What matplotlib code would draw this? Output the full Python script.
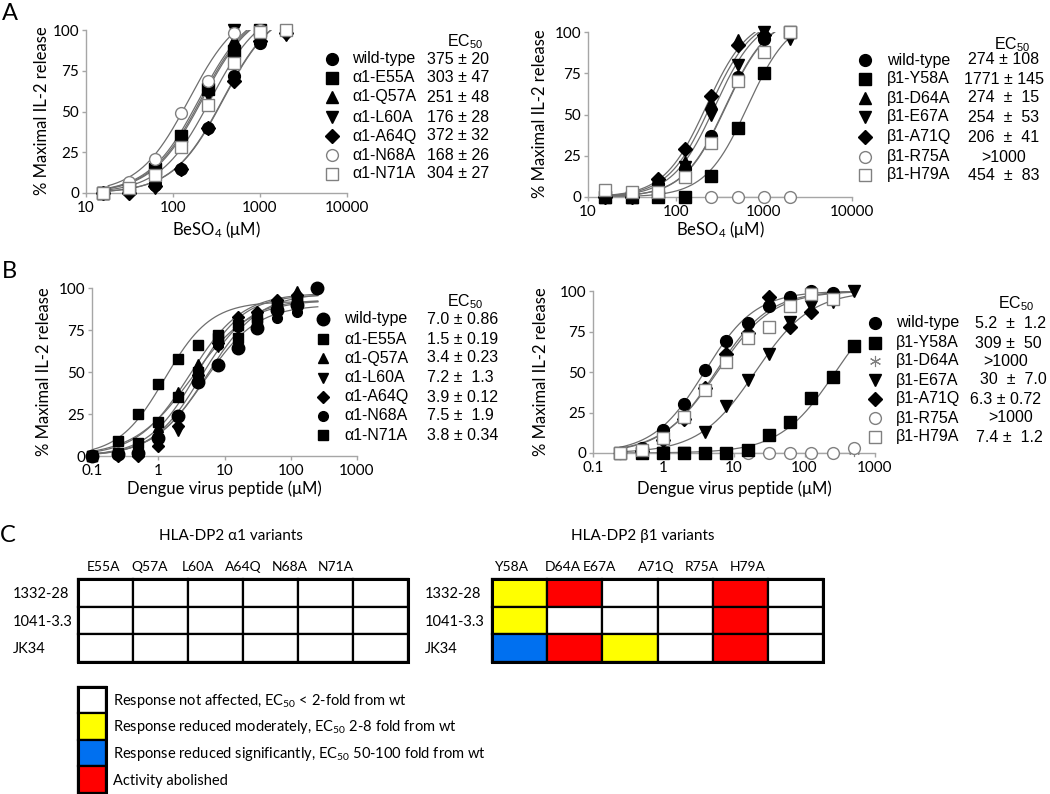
import numpy as np
import matplotlib
matplotlib.use('Agg')
import matplotlib.pyplot as plt
from matplotlib.patches import Rectangle
from matplotlib.ticker import FixedLocator, FixedFormatter, NullLocator

plt.rcParams['font.family'] = ['Lato', 'DejaVu Sans']
plt.rcParams['mathtext.default'] = 'regular'
LEG_FONT = ['Liberation Sans', 'DejaVu Sans']

nan = np.nan

# ---------------- data ----------------
be_conc = [15.6, 31.25, 62.5, 125, 250, 500, 1000, 2000]
pep_conc_a = [0.1, 0.25, 0.5, 1, 2, 4, 8, 16, 31.25, 62.5, 125, 250]
pep_conc_b = [0.24, 0.49, 0.98, 1.95, 3.9, 7.8, 15.6, 31.25, 62.5, 125, 250, 500]

a1_labels = ['wild-type', 'α1-E55A', 'α1-Q57A', 'α1-L60A', 'α1-A64Q', 'α1-N68A', 'α1-N71A']
b1_labels = ['wild-type', 'β1-Y58A', 'β1-D64A', 'β1-E67A', 'β1-A71Q', 'β1-R75A', 'β1-H79A']

# Panel A, alpha1 variants, BeSO4
a1_be_wt   = [0, 2, 5, 15, 40, 72, 92, nan]
a1_be_e55a = [0, 3, 15, 35, 64, 87, 100, nan]
a1_be_q57a = [0, 4, 13, 33, 67, 94, 100, nan]
a1_be_l60a = [0, 0, 3, 28, 60, 100, 96, 97]
a1_be_a64q = [0, 0, 4, 15, 40, 69, 93, 98]
a1_be_n68a = [0, 7, 21, 49, 69, 98, 100, nan]
a1_be_n71a = [0, 3, 11, 28, 54, 80, 99, 100]
a1_be_ec50_text = ['375 ± 20', '303 ± 47', '251 ± 48', '176 ± 28', '372 ± 32', '168 ± 26', '304 ± 27']
# fitted curve parameters (midpoint, Hill slope, top)
a1_be_fit_mid = [380, 218, 210, 200, 375, 153, 271]
a1_be_fit_slope = [1.5, 1.5, 1.5, 1.5, 1.5, 1.5, 1.5]
a1_be_fit_top = [115, 115, 115, 115, 115, 115, 115]

# Panel A, beta1 variants, BeSO4
b1_be_wt   = [0, 0, 8, 17, 37, 73, 96, nan]
b1_be_y58a = [0, 0, 0, 0, 13, 42, 75, 100]
b1_be_d64a = [0, 0, 8, 21, 57, 95, 100, nan]
b1_be_e67a = [0, 0, 7, 18, 50, 80, 100, 96]
b1_be_a71q = [0, 0, 11, 29, 61, 92, 98, nan]
b1_be_r75a = [nan, nan, nan, nan, 0, 0, 0, 0]
b1_be_h79a = [4, 3, 3, 12, 33, 70, 88, 100]
b1_be_ec50_text = ['274 ± 108', '1771 ± 145', '274  ±  15', '254  ±  53', '206  ±  41', '>1000', '454  ±  83']
b1_be_fit_mid = [365, 653, 245, 277, 221, nan, 370]
b1_be_fit_slope = [1.8, 1.8, 1.8, 1.8, 1.8, nan, 1.8]
b1_be_fit_top = [110, 110, 110, 110, 110, nan, 110]

# Panel B, alpha1 variants, peptide
a1_pep_wt   = [0, 1, 2, 11, 24, 44, 54, 64, 76, 87, 90, 100]
a1_pep_e55a = [0, 9, 25, 43, 58, 66, 72, 78, 83, 90, 93, nan]
a1_pep_q57a = [0, 2, 4, 17, 38, 55, 68, 80, 85, 92, 98, nan]
a1_pep_l60a = [0, 1, 2, 8, 15, 45, 65, 77, 82, 88, 90, nan]
a1_pep_a64q = [0, 0, 0, 6, 18, 48, 67, 83, 86, 93, 96, nan]
a1_pep_n68a = [0, 1, 3, 11, 24, 45, 66, 77, 80, 82, 86, nan]
a1_pep_n71a = [0, 2, 8, 20, 35, 50, 70, 70, 80, 90, 93, nan]
a1_pep_ec50_text = ['7.0 ± 0.86', '1.5 ± 0.19', '3.4 ± 0.23', '7.2 ±  1.3', '3.9 ± 0.12', '7.5 ±  1.9', '3.8 ± 0.34']
a1_pep_fit_mid = [5.5, 1.25, 3.0, 4.3, 3.7, 5.0, 3.2]
a1_pep_fit_slope = [1.1, 1.25, 1.1, 1.2, 1.2, 1.1, 1.0]
a1_pep_fit_top = [97, 92, 97, 93, 96, 90, 93]

# Panel B, beta1 variants, peptide
b1_pep_wt   = [0, 3, 14, 30, 51, 69, 80, 91, 96, 100, 99, nan]
b1_pep_y58a = [0, 0, 0, 0, 0, 0, 2, 11, 19, 34, 47, 66]
b1_pep_d64a = [0, 0, 0, 0, 0, 0, 0, 0, 0, 0, 0, 1]
b1_pep_e67a = [nan, 0, 0, 0, 13, 29, 45, 61, 81, 91, 93, 100]
b1_pep_a71q = [nan, 1, 8, 21, 40, 61, 74, 96, 78, 87, nan, nan]
b1_pep_r75a = [nan, nan, nan, nan, nan, nan, 0, 0, 0, 0, 0, 3]
b1_pep_h79a = [0, 2, 9, 22, 39, 56, 71, 78, 91, 98, 95, nan]
b1_pep_ec50_text = ['5.2  ±  1.2', '309 ±  50', '>1000', '30  ±  7.0', '6.3 ± 0.72', '>1000', '7.4 ±  1.2']
b1_pep_fit_mid = [3.8, 275, nan, 20, 5.5, nan, 5.8]
b1_pep_fit_slope = [1.2, 1.1, nan, 1.1, 1.15, nan, 1.1]
b1_pep_fit_top = [100, 100, nan, 100, 100, nan, 100]

# Panel C
clones = ['1332-28', '1041-3.3', 'JK34']
a1_variants = ['E55A', 'Q57A', 'L60A', 'A64Q', 'N68A', 'N71A']
b1_variants = ['Y58A', 'D64A', 'E67A', 'A71Q', 'R75A', 'H79A']
# 0 = not affected, 1 = moderate, 2 = significant, 3 = abolished
a1_effect = [[0, 0, 0, 0, 0, 0],
             [0, 0, 0, 0, 0, 0],
             [0, 0, 0, 0, 0, 0]]
b1_effect = [[1, 3, 0, 0, 3, 0],
             [1, 0, 0, 0, 3, 0],
             [2, 3, 1, 0, 3, 0]]
effect_labels = ['Response not affected, EC$_{50}$ < 2-fold from wt',
                 'Response reduced moderately, EC$_{50}$ 2-8 fold from wt',
                 'Response reduced significantly, EC$_{50}$ 50-100 fold from wt',
                 'Activity abolished']
effect_colors = ['#FFFFFF', '#FFFF00', '#0070F0', '#FF0000']

# ---------------- styles ----------------
BLACK = 'black'
GRAY = '#808080'
style_a = [dict(marker='o', ms=8.5, mfc=BLACK, mec=BLACK, zorder=5),
           dict(marker='s', ms=8, mfc=BLACK, mec=BLACK, zorder=6),
           dict(marker='^', ms=8, mfc=BLACK, mec=BLACK, zorder=7),
           dict(marker='v', ms=8, mfc=BLACK, mec=BLACK, zorder=8),
           dict(marker='D', ms=7, mfc=BLACK, mec=BLACK, zorder=9),
           dict(marker='o', ms=8.5, mfc='white', mec=GRAY, zorder=10),
           dict(marker='s', ms=8, mfc='white', mec=GRAY, zorder=11)]
style_bl = [dict(marker='o', ms=9, mfc=BLACK, mec=BLACK, zorder=5),
            dict(marker='s', ms=6.5, mfc=BLACK, mec=BLACK, zorder=6),
            dict(marker='^', ms=6.5, mfc=BLACK, mec=BLACK, zorder=7),
            dict(marker='v', ms=6.5, mfc=BLACK, mec=BLACK, zorder=8),
            dict(marker='D', ms=6, mfc=BLACK, mec=BLACK, zorder=9),
            dict(marker='o', ms=7, mfc=BLACK, mec=BLACK, zorder=10),
            dict(marker='s', ms=7.5, mfc=BLACK, mec=BLACK, zorder=11)]
style_br = [dict(marker='o', ms=8.5, mfc=BLACK, mec=BLACK, zorder=6),
            dict(marker='s', ms=8, mfc=BLACK, mec=BLACK, zorder=7),
            dict(marker=(6, 2, 0), ms=8, mfc=GRAY, mec=GRAY, mew=0.8, zorder=3),
            dict(marker='v', ms=8, mfc=BLACK, mec=BLACK, zorder=8),
            dict(marker='D', ms=7, mfc=BLACK, mec=BLACK, zorder=9),
            dict(marker='o', ms=8.5, mfc='white', mec=GRAY, zorder=5),
            dict(marker='s', ms=8, mfc='white', mec=GRAY, zorder=10)]

W, H = 1050, 794
fig = plt.figure(figsize=(W / 100, H / 100), dpi=100)


def px_axes(x0, x1, ytop, ybot):
    return fig.add_axes([x0 / W, 1 - ybot / H, (x1 - x0) / W, (ybot - ytop) / H])


def hill(x, mid, slope, top):
    return top / (1.0 + (mid / x) ** slope)


def setup(ax, xlim, xticks, xticklabels):
    ax.set_xscale('log')
    ax.set_xlim(*xlim)
    ax.set_ylim(0, 100)
    ax.patch.set_alpha(0)
    for s in ['top', 'right']:
        ax.spines[s].set_visible(False)
    for s in ['left', 'bottom']:
        ax.spines[s].set_color('#a6a6a6')
        ax.spines[s].set_linewidth(1.0)
    ax.xaxis.set_major_locator(FixedLocator(xticks))
    ax.xaxis.set_major_formatter(FixedFormatter(xticklabels))
    ax.xaxis.set_minor_locator(NullLocator())
    ax.set_yticks([0, 25, 50, 75, 100])
    ax.set_yticklabels(['0', '25', '50', '75', '100'])
    ax.tick_params(axis='both', colors='#a6a6a6', labelcolor='black',
                   labelsize=11, length=3, width=1.0)
    ax.tick_params(axis='x', pad=3)
    ax.tick_params(axis='y', pad=2)


def draw_panel(ax, conc, series, styles, mids, slopes, tops, crange, flat_range=None):
    xs = np.logspace(np.log10(crange[0]), np.log10(crange[1]), 400)
    for i in range(len(series)):
        if not np.isnan(mids[i]):
            ys = hill(xs, mids[i], slopes[i], tops[i])
            keep = ys <= 100.0
            ax.plot(xs[keep], ys[keep], color='#6e6e6e', lw=0.9, zorder=2)
    if flat_range is not None:
        ax.plot(flat_range, [0, 0], color='#8c8c8c', lw=0.9, zorder=2)
    for i, vals in enumerate(series):
        ax.plot(conc, vals, ls='none', clip_on=False, **styles[i])


# ---------- Panel A left ----------
axA1 = px_axes(86, 347, 30, 193)
setup(axA1, (10, 10000), [10, 100, 1000, 10000], ['10', '100', '1000', '10000'])
draw_panel(axA1, be_conc,
           [a1_be_wt, a1_be_e55a, a1_be_q57a, a1_be_l60a, a1_be_a64q, a1_be_n68a, a1_be_n71a],
           style_a, a1_be_fit_mid, a1_be_fit_slope, a1_be_fit_top, (18, 2000))

# ---------- Panel A right ----------
axA2 = px_axes(588, 852, 32, 197)
setup(axA2, (10, 10000), [10, 100, 1000, 10000], ['10', '100', '1000', '10000'])
draw_panel(axA2, be_conc,
           [b1_be_wt, b1_be_y58a, b1_be_d64a, b1_be_e67a, b1_be_a71q, b1_be_r75a, b1_be_h79a],
           style_a, b1_be_fit_mid, b1_be_fit_slope, b1_be_fit_top, (18, 2200),
           flat_range=[250, 2000])

# ---------- Panel B left ----------
axB1 = px_axes(92, 357, 288, 456)
setup(axB1, (0.1, 1000), [0.1, 1, 10, 100, 1000], ['0.1', '1', '10', '100', '1000'])
draw_panel(axB1, pep_conc_a,
           [a1_pep_wt, a1_pep_e55a, a1_pep_q57a, a1_pep_l60a, a1_pep_a64q, a1_pep_n68a, a1_pep_n71a],
           style_bl, a1_pep_fit_mid, a1_pep_fit_slope, a1_pep_fit_top, (0.1, 256))

# ---------- Panel B right ----------
axB2 = px_axes(593, 875, 291, 453)
setup(axB2, (0.1, 1000), [0.1, 1, 10, 100, 1000], ['0.1', '1', '10', '100', '1000'])
draw_panel(axB2, pep_conc_b,
           [b1_pep_wt, b1_pep_y58a, b1_pep_d64a, b1_pep_e67a, b1_pep_a71q, b1_pep_r75a, b1_pep_h79a],
           style_br, b1_pep_fit_mid, b1_pep_fit_slope, b1_pep_fit_top, (0.24, 512),
           flat_range=[0.24, 500])

# ---------- overlay in pixel coordinates ----------
ov = fig.add_axes([0, 0, 1, 1])
ov.set_xlim(0, W)
ov.set_ylim(H, 0)
ov.axis('off')
ov.patch.set_alpha(0)

# axis titles
ylab = '% Maximal IL-2 release'
for xc, yc in [(42, 111), (540, 114), (44, 372), (541, 372)]:
    ov.text(xc, yc, ylab, rotation=90, ha='center', va='center', fontsize=12)
ov.text(216, 229, 'BeSO$_4$ (μM)', ha='center', va='center', fontsize=12)
ov.text(720, 229, 'BeSO$_4$ (μM)', ha='center', va='center', fontsize=12)
ov.text(224, 489, 'Dengue virus peptide (μM)', ha='center', va='center', fontsize=12)
ov.text(734, 489, 'Dengue virus peptide (μM)', ha='center', va='center', fontsize=12)

# panel letters
ov.text(2, 13, 'A', ha='left', va='center', fontsize=17)
ov.text(2, 272, 'B', ha='left', va='center', fontsize=17)
ov.text(0, 536, 'C', ha='left', va='center', fontsize=17)


def legend(mx, lx, vx, vha, hx, hy, rows, labels, values, styles, value_x_list=None):
    ov.text(hx, hy, 'EC$_{50}$', ha='left', va='center', fontsize=11.5, family=LEG_FONT)
    for i, y in enumerate(rows):
        st = dict(styles[i])
        st.pop('zorder', None)
        ov.plot([mx], [y], ls='none', **st)
        ov.text(lx, y, labels[i], ha='left', va='center', fontsize=11.5, family=LEG_FONT)
        x = vx if value_x_list is None else value_x_list[i]
        ov.text(x, y, values[i], ha=vha, va='center', fontsize=11.5, family=LEG_FONT)


legend(332, 352, 427, 'left', 447, 42, [59, 78, 97, 117, 136, 155, 174],
       a1_labels, a1_be_ec50_text, style_a)
legend(865, 887, 1004, 'center', 994, 45, [60, 79, 98, 117, 137, 157, 175],
       b1_labels, b1_be_ec50_text, style_a)
legend(323, 344, 427, 'left', 447, 302, [319, 339, 358, 378, 397, 416, 435],
       a1_labels, a1_pep_ec50_text, style_bl)
legend(875, 896, 975, 'left', 998, 304, [323, 343, 361, 380, 399, 418, 437],
       b1_labels, b1_pep_ec50_text, style_br,
       value_x_list=[975, 975, 983, 980, 970, 988, 976])

# ---------- Panel C ----------
def grid(x0, x1, y0, y1, effects, col_labels, col_x, row_x):
    ncol = len(effects[0])
    nrow = len(effects)
    cw = (x1 - x0) / ncol
    rh = (y1 - y0) / nrow
    for r in range(nrow):
        for c in range(ncol):
            ov.add_patch(Rectangle((x0 + c * cw, y0 + r * rh), cw, rh,
                                   facecolor=effect_colors[effects[r][c]],
                                   edgecolor='black', lw=1.6, zorder=2))
        ov.text(row_x, y0 + (r + 0.5) * rh + 1, clones[r], ha='left', va='center', fontsize=10.5)
    ov.add_patch(Rectangle((x0, y0), x1 - x0, y1 - y0, facecolor='none',
                           edgecolor='black', lw=2.2, zorder=3))
    for lab, cx in zip(col_labels, col_x):
        ov.text(cx, 567, lab, ha='left', va='center', fontsize=10)


grid(78, 408, 579, 662, a1_effect, a1_variants, [87, 131, 182, 225, 272, 318], 13)
grid(492, 823, 579, 662, b1_effect, b1_variants, [494, 545, 583, 638, 685, 730], 425)
ov.text(231, 536, 'HLA-DP2 α1 variants', ha='center', va='center', fontsize=11)
ov.text(643, 536, 'HLA-DP2 β1 variants', ha='center', va='center', fontsize=11)

box_edges = [687, 713, 740, 766, 793]
for i in range(4):
    ov.add_patch(Rectangle((78, box_edges[i]), 28, box_edges[i + 1] - box_edges[i],
                           facecolor=effect_colors[i], edgecolor='black', lw=1.6, zorder=2))
    ov.text(113, (box_edges[i] + box_edges[i + 1]) / 2 + 1, effect_labels[i],
            ha='left', va='center', fontsize=10.5)
ov.add_patch(Rectangle((78, 687), 28, 106, facecolor='none', edgecolor='black', lw=2.2, zorder=3))

fig.savefig('out.png', dpi=100)
